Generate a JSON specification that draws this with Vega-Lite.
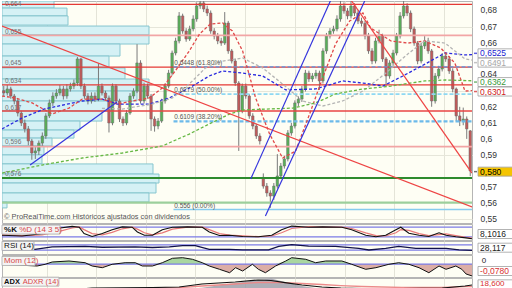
{
"$schema":"https://vega.github.io/schema/vega-lite/v6.json",
"padding":0,"background":"#ffffff","bounds":"flush","spacing":1,
"config":{"font":"Liberation Sans","view":{"fill":"#fefef4","stroke":"#b5b5b5"},"axis":{"domain":false}},
"datasets":{
"ohlc":[{"t":0,"o":0.63,"h":0.633,"l":0.6265,"c":0.6286},{"t":1,"o":0.6286,"h":0.6335,"l":0.627,"c":0.6311},{"t":2,"o":0.6311,"h":0.6325,"l":0.625,"c":0.6267},{"t":3,"o":0.6267,"h":0.628,"l":0.6215,"c":0.6236},{"t":4,"o":0.6236,"h":0.625,"l":0.614,"c":0.6161},{"t":5,"o":0.6161,"h":0.6175,"l":0.608,"c":0.6099},{"t":6,"o":0.6099,"h":0.612,"l":0.604,"c":0.6062},{"t":7,"o":0.6062,"h":0.608,"l":0.596,"c":0.5987},{"t":8,"o":0.5987,"h":0.6,"l":0.587,"c":0.5912},{"t":9,"o":0.5912,"h":0.595,"l":0.5875,"c":0.5925},{"t":10,"o":0.5925,"h":0.599,"l":0.59,"c":0.5974},{"t":11,"o":0.5974,"h":0.604,"l":0.5955,"c":0.6018},{"t":12,"o":0.6018,"h":0.616,"l":0.6,"c":0.6143},{"t":13,"o":0.6143,"h":0.6245,"l":0.613,"c":0.6224},{"t":14,"o":0.6224,"h":0.629,"l":0.6205,"c":0.6267},{"t":15,"o":0.6267,"h":0.631,"l":0.625,"c":0.6286},{"t":16,"o":0.6286,"h":0.6335,"l":0.627,"c":0.6311},{"t":17,"o":0.6311,"h":0.633,"l":0.6245,"c":0.6267},{"t":18,"o":0.6267,"h":0.634,"l":0.625,"c":0.6311},{"t":19,"o":0.6311,"h":0.635,"l":0.6295,"c":0.6329},{"t":20,"o":0.6329,"h":0.637,"l":0.631,"c":0.6348},{"t":21,"o":0.6348,"h":0.651,"l":0.633,"c":0.6498},{"t":22,"o":0.6498,"h":0.6505,"l":0.631,"c":0.6329},{"t":23,"o":0.6329,"h":0.6345,"l":0.625,"c":0.6267},{"t":24,"o":0.6267,"h":0.6285,"l":0.6215,"c":0.6236},{"t":25,"o":0.6236,"h":0.629,"l":0.622,"c":0.6267},{"t":26,"o":0.6267,"h":0.629,"l":0.623,"c":0.6248},{"t":27,"o":0.6248,"h":0.647,"l":0.6235,"c":0.6329},{"t":28,"o":0.6329,"h":0.6345,"l":0.627,"c":0.6286},{"t":29,"o":0.6286,"h":0.63,"l":0.624,"c":0.6255},{"t":30,"o":0.6255,"h":0.627,"l":0.604,"c":0.6099},{"t":31,"o":0.6099,"h":0.6345,"l":0.6085,"c":0.6329},{"t":32,"o":0.6329,"h":0.634,"l":0.622,"c":0.6236},{"t":33,"o":0.6236,"h":0.625,"l":0.6105,"c":0.6124},{"t":34,"o":0.6124,"h":0.614,"l":0.608,"c":0.6099},{"t":35,"o":0.6099,"h":0.618,"l":0.6085,"c":0.6161},{"t":36,"o":0.6161,"h":0.6285,"l":0.615,"c":0.6267},{"t":37,"o":0.6267,"h":0.6315,"l":0.625,"c":0.6298},{"t":38,"o":0.6298,"h":0.659,"l":0.6285,"c":0.6473},{"t":39,"o":0.6473,"h":0.649,"l":0.622,"c":0.6236},{"t":40,"o":0.6236,"h":0.635,"l":0.622,"c":0.6329},{"t":41,"o":0.6329,"h":0.6345,"l":0.625,"c":0.6267},{"t":42,"o":0.6267,"h":0.628,"l":0.605,"c":0.6124},{"t":43,"o":0.6124,"h":0.614,"l":0.6045,"c":0.608},{"t":44,"o":0.608,"h":0.613,"l":0.606,"c":0.6111},{"t":45,"o":0.6111,"h":0.625,"l":0.61,"c":0.6236},{"t":46,"o":0.6236,"h":0.6345,"l":0.622,"c":0.6329},{"t":47,"o":0.6329,"h":0.643,"l":0.6315,"c":0.641},{"t":48,"o":0.641,"h":0.655,"l":0.6395,"c":0.6535},{"t":49,"o":0.6535,"h":0.663,"l":0.652,"c":0.661},{"t":50,"o":0.661,"h":0.679,"l":0.6595,"c":0.6766},{"t":51,"o":0.6766,"h":0.678,"l":0.6655,"c":0.6672},{"t":52,"o":0.6672,"h":0.669,"l":0.6605,"c":0.6622},{"t":53,"o":0.6622,"h":0.6705,"l":0.661,"c":0.6685},{"t":54,"o":0.6685,"h":0.677,"l":0.667,"c":0.6747},{"t":55,"o":0.6747,"h":0.685,"l":0.673,"c":0.6828},{"t":56,"o":0.6828,"h":0.69,"l":0.681,"c":0.6847},{"t":57,"o":0.6847,"h":0.688,"l":0.679,"c":0.6809},{"t":58,"o":0.6809,"h":0.683,"l":0.6765,"c":0.6784},{"t":59,"o":0.6784,"h":0.68,"l":0.6655,"c":0.6672},{"t":60,"o":0.6672,"h":0.669,"l":0.662,"c":0.6641},{"t":61,"o":0.6641,"h":0.666,"l":0.659,"c":0.661},{"t":62,"o":0.661,"h":0.663,"l":0.658,"c":0.6597},{"t":63,"o":0.6597,"h":0.679,"l":0.6585,"c":0.6722},{"t":64,"o":0.6722,"h":0.6735,"l":0.653,"c":0.6548},{"t":65,"o":0.6548,"h":0.656,"l":0.647,"c":0.6485},{"t":66,"o":0.6485,"h":0.65,"l":0.633,"c":0.6348},{"t":67,"o":0.6348,"h":0.636,"l":0.5925,"c":0.6174},{"t":68,"o":0.6174,"h":0.6345,"l":0.616,"c":0.6329},{"t":69,"o":0.6329,"h":0.6345,"l":0.625,"c":0.6267},{"t":70,"o":0.6267,"h":0.628,"l":0.6125,"c":0.6143},{"t":71,"o":0.6143,"h":0.616,"l":0.606,"c":0.608},{"t":72,"o":0.608,"h":0.6095,"l":0.6,"c":0.6018},{"t":73,"o":0.6018,"h":0.6035,"l":0.5965,"c":0.5987},{"t":74,"o":0.576,"h":0.5785,"l":0.569,"c":0.5706},{"t":75,"o":0.5706,"h":0.5725,"l":0.564,"c":0.5663},{"t":76,"o":0.5663,"h":0.568,"l":0.557,"c":0.5644},{"t":77,"o":0.5644,"h":0.5725,"l":0.562,"c":0.5706},{"t":78,"o":0.5706,"h":0.5905,"l":0.569,"c":0.5769},{"t":79,"o":0.5769,"h":0.585,"l":0.575,"c":0.5831},{"t":80,"o":0.5831,"h":0.5895,"l":0.5815,"c":0.5875},{"t":81,"o":0.5875,"h":0.6055,"l":0.586,"c":0.6037},{"t":82,"o":0.6037,"h":0.61,"l":0.602,"c":0.608},{"t":83,"o":0.608,"h":0.624,"l":0.6065,"c":0.6224},{"t":84,"o":0.6224,"h":0.6265,"l":0.6205,"c":0.6248},{"t":85,"o":0.6248,"h":0.633,"l":0.623,"c":0.6311},{"t":86,"o":0.6311,"h":0.643,"l":0.6295,"c":0.641},{"t":87,"o":0.641,"h":0.6425,"l":0.6355,"c":0.6373},{"t":88,"o":0.6373,"h":0.641,"l":0.6355,"c":0.6392},{"t":89,"o":0.6392,"h":0.643,"l":0.6375,"c":0.641},{"t":90,"o":0.641,"h":0.6425,"l":0.6305,"c":0.6361},{"t":91,"o":0.6361,"h":0.6565,"l":0.6345,"c":0.6548},{"t":92,"o":0.6548,"h":0.666,"l":0.653,"c":0.6641},{"t":93,"o":0.6641,"h":0.669,"l":0.6625,"c":0.6672},{"t":94,"o":0.6672,"h":0.6705,"l":0.6655,"c":0.6685},{"t":95,"o":0.6685,"h":0.677,"l":0.667,"c":0.6747},{"t":96,"o":0.6747,"h":0.688,"l":0.673,"c":0.6828},{"t":97,"o":0.6828,"h":0.685,"l":0.678,"c":0.6797},{"t":98,"o":0.6797,"h":0.6815,"l":0.6745,"c":0.6766},{"t":99,"o":0.6766,"h":0.687,"l":0.675,"c":0.6828},{"t":100,"o":0.6828,"h":0.6845,"l":0.6765,"c":0.6784},{"t":101,"o":0.6784,"h":0.68,"l":0.6715,"c":0.6734},{"t":102,"o":0.6734,"h":0.6755,"l":0.67,"c":0.672},{"t":103,"o":0.672,"h":0.6735,"l":0.662,"c":0.6641},{"t":104,"o":0.6641,"h":0.666,"l":0.653,"c":0.6548},{"t":105,"o":0.6548,"h":0.6565,"l":0.6465,"c":0.6485},{"t":106,"o":0.6485,"h":0.663,"l":0.647,"c":0.661},{"t":107,"o":0.661,"h":0.668,"l":0.6595,"c":0.6641},{"t":108,"o":0.6641,"h":0.6655,"l":0.648,"c":0.6498},{"t":109,"o":0.6498,"h":0.651,"l":0.633,"c":0.6392},{"t":110,"o":0.6392,"h":0.649,"l":0.6375,"c":0.6473},{"t":111,"o":0.6473,"h":0.6555,"l":0.6455,"c":0.6535},{"t":112,"o":0.6535,"h":0.666,"l":0.652,"c":0.6641},{"t":113,"o":0.6641,"h":0.679,"l":0.6625,"c":0.6766},{"t":114,"o":0.6766,"h":0.687,"l":0.675,"c":0.6828},{"t":115,"o":0.6828,"h":0.6845,"l":0.6765,"c":0.6784},{"t":116,"o":0.6784,"h":0.68,"l":0.6665,"c":0.6685},{"t":117,"o":0.6685,"h":0.67,"l":0.658,"c":0.6597},{"t":118,"o":0.6597,"h":0.661,"l":0.6465,"c":0.6485},{"t":119,"o":0.6485,"h":0.66,"l":0.647,"c":0.6579},{"t":120,"o":0.6579,"h":0.664,"l":0.656,"c":0.661},{"t":121,"o":0.661,"h":0.663,"l":0.653,"c":0.6548},{"t":122,"o":0.6548,"h":0.656,"l":0.62,"c":0.6236},{"t":123,"o":0.6236,"h":0.641,"l":0.622,"c":0.6392},{"t":124,"o":0.6392,"h":0.6455,"l":0.6375,"c":0.6435},{"t":125,"o":0.6435,"h":0.6535,"l":0.642,"c":0.6516},{"t":126,"o":0.6516,"h":0.654,"l":0.648,"c":0.6498},{"t":127,"o":0.6498,"h":0.6515,"l":0.6405,"c":0.6423},{"t":128,"o":0.6423,"h":0.644,"l":0.629,"c":0.6311},{"t":129,"o":0.6311,"h":0.632,"l":0.611,"c":0.6143},{"t":130,"o":0.6143,"h":0.62,"l":0.608,"c":0.6111},{"t":131,"o":0.6111,"h":0.6195,"l":0.6085,"c":0.6124},{"t":132,"o":0.6124,"h":0.614,"l":0.6,"c":0.6062},{"t":133,"o":0.605,"h":0.6055,"l":0.5768,"c":0.58}],
"prof":[{"p0":0.6859,"p1":0.6815,"vol":14.33},{"p0":0.6815,"p1":0.6766,"vol":18.03},{"p0":0.6766,"p1":0.6709,"vol":18.32},{"p0":0.6703,"p1":0.6647,"vol":41.41},{"p0":0.6647,"p1":0.6591,"vol":41.41},{"p0":0.6591,"p1":0.6516,"vol":33.14},{"p0":0.6516,"p1":0.6442,"vol":30.01},{"p0":0.6442,"p1":0.6373,"vol":34.57},{"p0":0.6373,"p1":0.6298,"vol":41.41},{"p0":0.6298,"p1":0.6236,"vol":37.99},{"p0":0.6236,"p1":0.6174,"vol":30.86},{"p0":0.6174,"p1":0.6111,"vol":28.01},{"p0":0.6111,"p1":0.6055,"vol":21.74},{"p0":0.6055,"p1":0.6005,"vol":20.03},{"p0":0.6005,"p1":0.5956,"vol":13.76},{"p0":0.5956,"p1":0.59,"vol":11.47},{"p0":0.59,"p1":0.5844,"vol":10.9},{"p0":0.5844,"p1":0.5781,"vol":42.55},{"p0":0.5781,"p1":0.5725,"vol":44.26},{"p0":0.5725,"p1":0.5663,"vol":43.41},{"p0":0.5663,"p1":0.5607,"vol":41.41},{"p0":0.5607,"p1":0.557,"vol":0.93}],
"plab":[{"p":0.6838,"lab":"0,664"},{"p":0.6666,"lab":"0,655"},{"p":0.6473,"lab":"0,645"},{"p":0.6361,"lab":"0,634"},{"p":0.6192,"lab":"0,617"},{"p":0.5981,"lab":"0,596"},{"p":0.5783,"lab":"0,576"}],
"ylab":[{"p":0.68,"lab":"0,68"},{"p":0.67,"lab":"0,67"},{"p":0.66,"lab":"0,66"},{"p":0.6407,"lab":"0,64"},{"p":0.62,"lab":"0,62"},{"p":0.61,"lab":"0,61"},{"p":0.6,"lab":"0,6"},{"p":0.59,"lab":"0,59"},{"p":0.57,"lab":"0,57"},{"p":0.56,"lab":"0,56"},{"p":0.55,"lab":"0,55"}],
"hl":[{"p":0.6838,"kind":"r"},{"p":0.6645,"kind":"pk"},{"p":0.6447,"kind":"r"},{"p":0.6336,"kind":"r"},{"p":0.6173,"kind":"R"},{"p":0.5952,"kind":"pk"},{"p":0.5756,"kind":"g"},{"p":0.5603,"kind":"lg"}],
"fib":[{"p":0.6448,"pct":"61.80%","lab":"0.6448 (61.80%)"},{"p":0.6279,"pct":"50.00%","lab":"0.6279 (50.00%)"},{"p":0.6109,"pct":"38.20%","lab":"0.6109 (38.20%)"},{"p":0.556,"pct":"0.00%","lab":"0.556 (0.00%)"}],
"ma":[
{"s":"MA50","t":-0.5,"p":0.6062},{"s":"MA50","t":5.2,"p":0.613},{"s":"MA50","t":11.5,"p":0.6186},{"s":"MA50","t":22.4,"p":0.6236},{"s":"MA50","t":28.1,"p":0.6248},{"s":"MA50","t":32.4,"p":0.6217},{"s":"MA50","t":41.5,"p":0.6217},{"s":"MA50","t":47.2,"p":0.6255},{"s":"MA50","t":52.9,"p":0.6317},{"s":"MA50","t":58.6,"p":0.6392},{"s":"MA50","t":62.4,"p":0.6423},{"s":"MA50","t":68.1,"p":0.641},{"s":"MA50","t":73.8,"p":0.6392},{"s":"MA50","t":80.4,"p":0.6305},{"s":"MA50","t":88.9,"p":0.6311},{"s":"MA50","t":96.6,"p":0.6361},{"s":"MA50","t":102.4,"p":0.6348},{"s":"MA50","t":108.1,"p":0.6329},{"s":"MA50","t":113.8,"p":0.6392},{"s":"MA50","t":120.1,"p":0.6466},{"s":"MA50","t":125.8,"p":0.6535},{"s":"MA50","t":131.5,"p":0.6523},{"s":"MA50","t":133.5,"p":0.6525},
{"s":"MA20","t":-0.5,"p":0.6267},{"s":"MA20","t":3.2,"p":0.6255},{"s":"MA20","t":8.1,"p":0.6224},{"s":"MA20","t":13.8,"p":0.6155},{"s":"MA20","t":18.6,"p":0.6192},{"s":"MA20","t":22.4,"p":0.6248},{"s":"MA20","t":28.1,"p":0.6248},{"s":"MA20","t":32.4,"p":0.6217},{"s":"MA20","t":36.6,"p":0.6236},{"s":"MA20","t":41.5,"p":0.6255},{"s":"MA20","t":45.2,"p":0.6317},{"s":"MA20","t":48.9,"p":0.6423},{"s":"MA20","t":52.9,"p":0.6548},{"s":"MA20","t":55.8,"p":0.6653},{"s":"MA20","t":58.9,"p":0.6716},{"s":"MA20","t":62.4,"p":0.6722},{"s":"MA20","t":65.2,"p":0.6672},{"s":"MA20","t":68.1,"p":0.6548},{"s":"MA20","t":71.8,"p":0.6255},{"s":"MA20","t":75.8,"p":0.603},{"s":"MA20","t":79.5,"p":0.5881},{"s":"MA20","t":83.2,"p":0.5924},{"s":"MA20","t":87.2,"p":0.6155},{"s":"MA20","t":90.9,"p":0.6379},{"s":"MA20","t":94.6,"p":0.6591},{"s":"MA20","t":98.6,"p":0.6734},{"s":"MA20","t":102.4,"p":0.6784},{"s":"MA20","t":104.6,"p":0.6691},{"s":"MA20","t":110.4,"p":0.661},{"s":"MA20","t":115.2,"p":0.6597},{"s":"MA20","t":120.1,"p":0.661},{"s":"MA20","t":124.6,"p":0.6566},{"s":"MA20","t":128.6,"p":0.6473},{"s":"MA20","t":131.5,"p":0.6298},{"s":"MA20","t":133.5,"p":0.6301},
{"s":"MA100","t":28,"p":0.619},{"s":"MA100","t":33.8,"p":0.6186},{"s":"MA100","t":42.4,"p":0.6217},{"s":"MA100","t":48.1,"p":0.6255},{"s":"MA100","t":53.8,"p":0.6361},{"s":"MA100","t":57.5,"p":0.6442},{"s":"MA100","t":62.4,"p":0.6485},{"s":"MA100","t":68.1,"p":0.6504},{"s":"MA100","t":73.8,"p":0.6442},{"s":"MA100","t":79.5,"p":0.6342},{"s":"MA100","t":85.2,"p":0.6236},{"s":"MA100","t":90.9,"p":0.6205},{"s":"MA100","t":96.6,"p":0.6236},{"s":"MA100","t":102.4,"p":0.6298},{"s":"MA100","t":108.6,"p":0.6404},{"s":"MA100","t":115.2,"p":0.6529},{"s":"MA100","t":120.1,"p":0.661},{"s":"MA100","t":125.8,"p":0.6597},{"s":"MA100","t":131.5,"p":0.6498},{"s":"MA100","t":133.5,"p":0.6491},
{"s":"MA200","t":-0.5,"p":0.5787},{"s":"MA200","t":10.9,"p":0.5837},{"s":"MA200","t":22.4,"p":0.5881},{"s":"MA200","t":33.8,"p":0.5912},{"s":"MA200","t":45.2,"p":0.5956},{"s":"MA200","t":52.9,"p":0.603},{"s":"MA200","t":58.6,"p":0.6093},{"s":"MA200","t":64.4,"p":0.6155},{"s":"MA200","t":68.1,"p":0.618},{"s":"MA200","t":82.4,"p":0.6192},{"s":"MA200","t":88.9,"p":0.6224},{"s":"MA200","t":94.6,"p":0.628},{"s":"MA200","t":102.4,"p":0.6311},{"s":"MA200","t":110.4,"p":0.6329},{"s":"MA200","t":120.1,"p":0.6361},{"s":"MA200","t":125.8,"p":0.6367},{"s":"MA200","t":133.5,"p":0.6362}],
"trend":[{"id":"r1","t":-0.5,"p":0.6703},{"id":"r1","t":133.5,"p":0.5576},{"id":"r2","t":96.4,"p":0.6946},{"id":"r2","t":133.5,"p":0.5787},{"id":"b1","t":7.5,"p":0.5837},{"id":"b1","t":32.3,"p":0.623},{"id":"b2","t":70.4,"p":0.575},{"id":"b2","t":94.9,"p":0.6946},{"id":"b3","t":74.6,"p":0.5519},{"id":"b3","t":102.9,"p":0.6859}],
"rlab":[{"p":0.6533,"lab":"0,6525","s":"MA50"},{"p":0.6475,"lab":"0,6491","s":"MA100"},{"p":0.6354,"lab":"0,6362","s":"MA200"},{"p":0.6295,"lab":"0,6301","s":"MA20"},{"p":0.5796,"lab":"0,580","s":"last"}],
"stoch":[{"t":-0.5,"k":30,"d":32},{"t":5.2,"k":25,"d":27},{"t":10.9,"k":40,"d":32},{"t":16.1,"k":75,"d":55},{"t":19.5,"k":85,"d":75},{"t":21.5,"k":80,"d":82},{"t":22.9,"k":40,"d":65},{"t":25.2,"k":22,"d":40},{"t":28.1,"k":40,"d":32},{"t":30.9,"k":64,"d":48},{"t":33.8,"k":82,"d":70},{"t":36.6,"k":80,"d":80},{"t":38.1,"k":50,"d":68},{"t":40.1,"k":30,"d":45},{"t":42.4,"k":30,"d":32},{"t":45.2,"k":64,"d":45},{"t":48.1,"k":80,"d":68},{"t":52.4,"k":82,"d":80},{"t":56.6,"k":80,"d":81},{"t":58.6,"k":50,"d":65},{"t":61.5,"k":28,"d":40},{"t":64.4,"k":30,"d":30},{"t":68.1,"k":22,"d":26},{"t":72.6,"k":20,"d":21},{"t":76.4,"k":30,"d":25},{"t":79.2,"k":64,"d":45},{"t":82.1,"k":87,"d":72},{"t":86.9,"k":80,"d":83},{"t":90.9,"k":82,"d":81},{"t":96.4,"k":80,"d":81},{"t":99.2,"k":64,"d":72},{"t":103.2,"k":30,"d":45},{"t":106.1,"k":20,"d":27},{"t":108.9,"k":30,"d":25},{"t":111.8,"k":64,"d":45},{"t":113.2,"k":80,"d":65},{"t":115.5,"k":42,"d":60},{"t":118.4,"k":30,"d":40},{"t":121.2,"k":22,"d":27},{"t":124.1,"k":45,"d":33},{"t":126.1,"k":30,"d":38},{"t":128.9,"k":20,"d":27},{"t":131.8,"k":13,"d":17},{"t":133.5,"k":8,"d":12}],
"rsi":[{"t":-0.5,"r":45},{"t":8.9,"r":36},{"t":13.8,"r":55},{"t":23.2,"r":58},{"t":28.1,"r":52},{"t":37.5,"r":55},{"t":42.4,"r":50},{"t":47.2,"r":55},{"t":51,"r":65},{"t":54.6,"r":65},{"t":58.6,"r":36},{"t":64.4,"r":36},{"t":68.1,"r":31},{"t":75.5,"r":31},{"t":78.4,"r":58},{"t":82.1,"r":72},{"t":86.9,"r":60},{"t":94.6,"r":58},{"t":101.2,"r":44},{"t":104.1,"r":31},{"t":108.9,"r":44},{"t":112.6,"r":58},{"t":117.5,"r":44},{"t":126.1,"r":44},{"t":129.8,"r":31},{"t":133.5,"r":28}],
"mom":[{"t":-0.5,"v":-0.001,"vp":0,"vn":-0.001},{"t":9.5,"v":-0.0125,"vp":0,"vn":-0.0125},{"t":11.8,"v":-0.0013,"vp":0,"vn":-0.0013},{"t":13.8,"v":0.0139,"vp":0.0139,"vn":0},{"t":18.6,"v":0.0205,"vp":0.0205,"vn":0},{"t":23.2,"v":0.0092,"vp":0.0092,"vn":0},{"t":25.2,"v":-0.0125,"vp":0,"vn":-0.0125},{"t":28.1,"v":-0.0237,"vp":0,"vn":-0.0237},{"t":30.9,"v":-0.0013,"vp":0,"vn":-0.0013},{"t":34.6,"v":0.0092,"vp":0.0092,"vn":0},{"t":37.5,"v":0.0092,"vp":0.0092,"vn":0},{"t":39.5,"v":-0.0125,"vp":0,"vn":-0.0125},{"t":42.4,"v":-0.0125,"vp":0,"vn":-0.0125},{"t":45.2,"v":0.0092,"vp":0.0092,"vn":0},{"t":48.1,"v":0.0383,"vp":0.0383,"vn":0},{"t":51,"v":0.0422,"vp":0.0422,"vn":0},{"t":53.8,"v":0.0317,"vp":0.0317,"vn":0},{"t":56.6,"v":0.0092,"vp":0.0092,"vn":0},{"t":58.6,"v":-0.0125,"vp":0,"vn":-0.0125},{"t":61.5,"v":-0.0343,"vp":0,"vn":-0.0343},{"t":64.4,"v":-0.0567,"vp":0,"vn":-0.0567},{"t":66.1,"v":-0.0237,"vp":0,"vn":-0.0237},{"t":68.1,"v":-0.0455,"vp":0,"vn":-0.0455},{"t":70.9,"v":-0.0013,"vp":0,"vn":-0.0013},{"t":72.6,"v":-0.0343,"vp":0,"vn":-0.0343},{"t":74.6,"v":-0.0567,"vp":0,"vn":-0.0567},{"t":77.5,"v":-0.0125,"vp":0,"vn":-0.0125},{"t":80.4,"v":0.0205,"vp":0.0205,"vn":0},{"t":82.1,"v":0.0422,"vp":0.0422,"vn":0},{"t":86.1,"v":0.0317,"vp":0.0317,"vn":0},{"t":88.9,"v":0.0092,"vp":0.0092,"vn":0},{"t":91.8,"v":0.0205,"vp":0.0205,"vn":0},{"t":96.4,"v":0.0205,"vp":0.0205,"vn":0},{"t":99.2,"v":-0.0013,"vp":0,"vn":-0.0013},{"t":103.2,"v":-0.0343,"vp":0,"vn":-0.0343},{"t":106.1,"v":-0.0237,"vp":0,"vn":-0.0237},{"t":109.8,"v":-0.0013,"vp":0,"vn":-0.0013},{"t":112.6,"v":0.0092,"vp":0.0092,"vn":0},{"t":115.5,"v":-0.0013,"vp":0,"vn":-0.0013},{"t":118.4,"v":-0.0237,"vp":0,"vn":-0.0237},{"t":121.2,"v":-0.0567,"vp":0,"vn":-0.0567},{"t":124.1,"v":-0.0125,"vp":0,"vn":-0.0125},{"t":126.1,"v":-0.0343,"vp":0,"vn":-0.0343},{"t":128.9,"v":-0.0125,"vp":0,"vn":-0.0125},{"t":130.6,"v":-0.0343,"vp":0,"vn":-0.0343},{"t":131.8,"v":-0.065,"vp":0,"vn":-0.065},{"t":133.5,"v":-0.078,"vp":0,"vn":-0.078}],
"adx":[{"t":-0.5,"adx":-1,"adxr":2,"di":0},{"t":16.6,"adx":-4,"adxr":2,"di":0},{"t":25.2,"adx":5,"adxr":2,"di":0},{"t":42.3,"adx":6.5,"adxr":3.5,"di":0},{"t":50,"adx":8,"adxr":6,"di":0},{"t":56.5,"adx":17,"adxr":11,"di":6},{"t":66,"adx":23,"adxr":17,"di":20},{"t":72.5,"adx":29,"adxr":21.5,"di":29},{"t":76.2,"adx":27.5,"adxr":21.5,"di":33.5},{"t":80.2,"adx":20.9,"adxr":20.9,"di":23},{"t":85,"adx":14,"adxr":18.5,"di":11},{"t":90.7,"adx":8,"adxr":15.5,"di":2},{"t":96.1,"adx":5,"adxr":12,"di":0},{"t":102.1,"adx":3.5,"adxr":9.5,"di":0},{"t":113.5,"adx":3.5,"adxr":6.5,"di":0},{"t":119.2,"adx":4,"adxr":6.5,"di":0},{"t":125,"adx":5,"adxr":6.5,"di":0},{"t":131.5,"adx":11,"adxr":9,"di":0},{"t":133.5,"adx":14,"adxr":9.5,"di":0}]
},
"vconcat":[
{"width":470,"height":222,"resolve":{"scale":{"color":"independent","strokeWidth":"independent"}},
 "layer":[
  {"data":{"name":"prof"},"mark":{"type":"rect","fill":"#d5f1f5","stroke":"#86c6cf","strokeWidth":1,"clip":true},
   "encoding":{"x":{"field":"vol","type":"quantitative","scale":{"domain":[-0.5,133.5],"nice":false,"zero":false,"padding":0},
     "axis":{"values":[12.2,26.4,40.5,54.6,68.8,82.9,97.2,111.4,125.5],"labels":false,"ticks":false,"grid":true,"gridColor":"#e4e4d8","title":null}},"x2":{"datum":-0.5},
    "y":{"field":"p0","type":"quantitative","scale":{"domain":[0.5476,0.6859],"nice":false,"zero":false,"padding":0},
     "axis":{"orient":"right","values":[0.55,0.56,0.57,0.58,0.59,0.6,0.61,0.62,0.63,0.64,0.65,0.66,0.67,0.68],"labels":false,"ticks":false,"grid":true,"gridColor":"#e6e6da","title":null}},
    "y2":{"field":"p1"}}},
  {"data":{"name":"ohlc"},"mark":{"type":"rule","color":"#7a7a7a","strokeWidth":1,"clip":true},
   "encoding":{"x":{"field":"t","type":"quantitative"},"y":{"field":"l","type":"quantitative"},"y2":{"field":"h"}}},
  {"data":{"name":"ohlc"},"mark":{"type":"bar","width":2.5,"stroke":"#6a6a6a","strokeWidth":0.5,"clip":true},
   "encoding":{"x":{"field":"t","type":"quantitative"},"y":{"field":"o","type":"quantitative"},"y2":{"field":"c"},
    "color":{"condition":{"test":"datum.c >= datum.o","value":"#58b058"},"value":"#c05a5a"}}},
  {"data":{"name":"hl"},"mark":{"type":"rule"},
   "encoding":{"y":{"field":"p","type":"quantitative"},
    "color":{"field":"kind","type":"nominal","scale":{"domain":["r","R","pk","g","lg"],"range":["#e53935","#e84545","#f2a5a5","#2e8b2e","#9ccf9c"]},"legend":null},
    "strokeWidth":{"field":"kind","type":"nominal","scale":{"domain":["r","R","pk","g","lg"],"range":[1.2,2.4,2.2,1,2]},"legend":null}}},
  {"data":{"name":"fib"},"transform":[{"filter":"datum.pct != '0.00%'"}],"mark":{"type":"rule","strokeDash":[4,2]},
   "encoding":{"x":{"datum":48.4},"x2":{"datum":133.5},"y":{"field":"p","type":"quantitative"},
    "color":{"field":"pct","type":"nominal","scale":{"domain":["61.80%","50.00%","38.20%"],"range":["#5a9ae6","#8ed8f2","#6cbaea"]},"legend":null},
    "strokeWidth":{"field":"pct","type":"nominal","scale":{"domain":["61.80%","50.00%","38.20%"],"range":[1.3,2.2,1.3]},"legend":null}}},
  {"data":{"name":"fib"},"transform":[{"filter":"datum.pct == '0.00%'"}],"mark":{"type":"rule","color":"#86cbee","strokeWidth":1.5},
   "encoding":{"x":{"datum":48.4},"x2":{"datum":133.5},"y":{"field":"p","type":"quantitative"}}},
  {"data":{"name":"ma"},"mark":{"type":"line","strokeDash":[3,2],"strokeWidth":1.3,"clip":true},
   "encoding":{"x":{"field":"t","type":"quantitative"},"y":{"field":"p","type":"quantitative"},
    "color":{"field":"s","type":"nominal","scale":{"domain":["MA20","MA50","MA100","MA200"],"range":["#e04848","#2a2ade","#b4b4b4","#66b844"]},"legend":null}}},
  {"data":{"name":"trend"},"mark":{"type":"line","strokeWidth":1.2,"clip":true},
   "encoding":{"x":{"field":"t","type":"quantitative"},"y":{"field":"p","type":"quantitative"},"detail":{"field":"id"},
    "color":{"field":"id","type":"nominal","scale":{"domain":["r1","r2","b1","b2","b3"],"range":["#ee4444","#ee4444","#3535dd","#3535dd","#3535dd"]},"legend":null}}},
  {"data":{"name":"fib"},"mark":{"type":"text","align":"left","baseline":"bottom","dy":-1,"fontSize":6.5,"color":"#555555"},
   "encoding":{"x":{"datum":48.6},"y":{"field":"p","type":"quantitative"},"text":{"field":"lab"}}},
  {"data":{"name":"plab"},"mark":{"type":"text","align":"left","baseline":"middle","dx":3,"fontSize":6.5,"color":"#707070"},
   "encoding":{"x":{"datum":-0.5},"y":{"field":"p","type":"quantitative"},"text":{"field":"lab"}}},
  {"data":{"values":[{"lab":"© ProRealTime.com  Históricos ajustados con dividendos","p":0.5512}]},"mark":{"type":"text","align":"left","baseline":"middle","dx":2,"fontSize":7.4,"color":"#555555"},
   "encoding":{"x":{"datum":-0.5},"y":{"field":"p","type":"quantitative"},"text":{"field":"lab"}}},
  {"data":{"name":"ylab"},"mark":{"type":"text","align":"left","baseline":"middle","fontSize":8.5,"color":"#333333","clip":false},
   "encoding":{"x":{"datum":135.9},"y":{"field":"p","type":"quantitative"},"text":{"field":"lab"}}},
  {"data":{"name":"rlab"},"mark":{"type":"tick","orient":"horizontal","size":35,"thickness":9,"stroke":"#a0a0a0","strokeWidth":0.8,"opacity":1,"clip":false},
   "encoding":{"x":{"datum":140.2},"y":{"field":"p","type":"quantitative"},
    "color":{"field":"s","type":"nominal","scale":{"domain":["MA20","MA50","MA100","MA200","last"],"range":["#ffffff","#ffffff","#ffffff","#ffffff","#f5c400"]},"legend":null}}},
  {"data":{"name":"rlab"},"mark":{"type":"tick","orient":"horizontal","size":3,"thickness":1.5,"clip":false},
   "encoding":{"x":{"datum":134.5},"y":{"field":"p","type":"quantitative"},
    "color":{"field":"s","type":"nominal","scale":{"domain":["MA20","MA50","MA100","MA200","last"],"range":["#d02020","#1a1ad0","#a8a8a8","#3a9a3a","#333333"]},"legend":null}}},
  {"data":{"name":"rlab"},"mark":{"type":"text","align":"left","baseline":"middle","fontSize":8.5,"clip":false},
   "encoding":{"x":{"datum":135.8},"y":{"field":"p","type":"quantitative"},"text":{"field":"lab"},
    "color":{"field":"s","type":"nominal","scale":{"domain":["MA20","MA50","MA100","MA200","last"],"range":["#d02020","#1a1ad0","#a8a8a8","#3a9a3a","#000000"]},"legend":null}}}
 ]},
{"width":470,"height":16,
 "layer":[
  {"data":{"values":[{"lvl":80},{"lvl":20}]},"mark":{"type":"rule","color":"#7b7be6","strokeWidth":1.3},
   "encoding":{"y":{"field":"lvl","type":"quantitative","scale":{"domain":[0,100],"nice":false,"zero":false,"padding":0},"axis":null}}},
  {"data":{"name":"stoch"},"mark":{"type":"line","color":"#e87878","strokeWidth":1.2,"clip":true},
   "encoding":{"x":{"field":"t","type":"quantitative","scale":{"domain":[-0.5,133.5],"nice":false,"zero":false,"padding":0},"axis":{"values":[12.2,26.4,40.5,54.6,68.8,82.9,97.2,111.4,125.5],"labels":false,"ticks":false,"grid":true,"gridColor":"#e4e4d8","title":null}},"y":{"field":"d","type":"quantitative"}}},
  {"data":{"name":"stoch"},"mark":{"type":"line","color":"#111111","strokeWidth":1.1,"clip":true},
   "encoding":{"x":{"field":"t","type":"quantitative"},"y":{"field":"k","type":"quantitative"}}},
  {"data":{"values":[{"v":65}]},"mark":{"type":"tick","orient":"horizontal","size":58,"thickness":9,"color":"#f4f4f4","stroke":"#aaaaaa","strokeWidth":0.8,"opacity":1},
   "encoding":{"x":{"datum":7.77},"y":{"field":"v","type":"quantitative"}}},
  {"data":{"values":[{"v":65,"lab":"%K"}]},"mark":{"type":"text","align":"left","baseline":"middle","fontSize":8,"fontWeight":"bold","color":"#111111"},
   "encoding":{"x":{"datum":0.1},"y":{"field":"v","type":"quantitative"},"text":{"field":"lab"}}},
  {"data":{"values":[{"v":65,"lab":"%D (14 3 5)"}]},"mark":{"type":"text","align":"left","baseline":"middle","fontSize":8,"color":"#d84848"},
   "encoding":{"x":{"datum":4.4},"y":{"field":"v","type":"quantitative"},"text":{"field":"lab"}}},
  {"data":{"values":[{"v":37.5,"lab":"8,1016"}]},"mark":{"type":"tick","orient":"horizontal","size":35,"thickness":9,"color":"#ffffff","stroke":"#a0a0a0","strokeWidth":0.8,"opacity":1,"clip":false},
   "encoding":{"x":{"datum":140.2},"y":{"field":"v","type":"quantitative"}}},
  {"data":{"values":[{"v":37.5,"lab":"8,1016"}]},"mark":{"type":"text","align":"left","baseline":"middle","fontSize":8.5,"color":"#222222","clip":false},
   "encoding":{"x":{"datum":135.8},"y":{"field":"v","type":"quantitative"},"text":{"field":"lab"}}}
 ]},
{"width":470,"height":13,
 "layer":[
  {"data":{"values":[{"lvl":70},{"lvl":30}]},"mark":{"type":"rule","color":"#7b7be6","strokeWidth":1.3},
   "encoding":{"y":{"field":"lvl","type":"quantitative","scale":{"domain":[0,100],"nice":false,"zero":false,"padding":0},"axis":null}}},
  {"data":{"name":"rsi"},"mark":{"type":"line","color":"#10104a","strokeWidth":1.3,"clip":true},
   "encoding":{"x":{"field":"t","type":"quantitative","scale":{"domain":[-0.5,133.5],"nice":false,"zero":false,"padding":0},"axis":{"values":[12.2,26.4,40.5,54.6,68.8,82.9,97.2,111.4,125.5],"labels":false,"ticks":false,"grid":true,"gridColor":"#e4e4d8","title":null}},"y":{"field":"r","type":"quantitative"}}},
  {"data":{"values":[{"v":62,"lab":"RSI (14)"}]},"mark":{"type":"tick","orient":"horizontal","size":32,"thickness":9,"color":"#f4f4f4","stroke":"#aaaaaa","strokeWidth":0.8,"opacity":1},
   "encoding":{"x":{"datum":4.06},"y":{"field":"v","type":"quantitative"}}},
  {"data":{"values":[{"v":62,"lab":"RSI (14)"}]},"mark":{"type":"text","align":"left","baseline":"middle","fontSize":8,"color":"#111111"},
   "encoding":{"x":{"datum":0.1},"y":{"field":"v","type":"quantitative"},"text":{"field":"lab"}}},
  {"data":{"values":[{"v":48.5,"lab":"28,117"}]},"mark":{"type":"tick","orient":"horizontal","size":35,"thickness":9,"color":"#ffffff","stroke":"#a0a0a0","strokeWidth":0.8,"opacity":1,"clip":false},
   "encoding":{"x":{"datum":140.2},"y":{"field":"v","type":"quantitative"}}},
  {"data":{"values":[{"v":48.5,"lab":"28,117"}]},"mark":{"type":"text","align":"left","baseline":"middle","fontSize":8.5,"color":"#222222","clip":false},
   "encoding":{"x":{"datum":135.8},"y":{"field":"v","type":"quantitative"},"text":{"field":"lab"}}}
 ]},
{"width":470,"height":22,
 "layer":[
  {"data":{"name":"mom"},"mark":{"type":"area","color":"#a9d6a0","clip":true},
   "encoding":{"x":{"field":"t","type":"quantitative","scale":{"domain":[-0.5,133.5],"nice":false,"zero":false,"padding":0},"axis":{"values":[12.2,26.4,40.5,54.6,68.8,82.9,97.2,111.4,125.5],"labels":false,"ticks":false,"grid":true,"gridColor":"#e4e4d8","title":null}},
    "y":{"field":"vp","type":"quantitative","scale":{"domain":[-0.085,0.06],"nice":false,"zero":false,"padding":0},"axis":null},"y2":{"datum":0}}},
  {"data":{"name":"mom"},"mark":{"type":"area","color":"#dcaea6","clip":true},
   "encoding":{"x":{"field":"t","type":"quantitative"},"y":{"field":"vn","type":"quantitative"},"y2":{"datum":0}}},
  {"data":{"values":[{"lvl":0}]},"mark":{"type":"rule","color":"#7b7be6","strokeWidth":1.3},
   "encoding":{"y":{"field":"lvl","type":"quantitative"}}},
  {"data":{"name":"mom"},"mark":{"type":"line","color":"#111111","strokeWidth":1,"clip":true},
   "encoding":{"x":{"field":"t","type":"quantitative"},"y":{"field":"v","type":"quantitative"}}},
  {"data":{"values":[{"v":0.0205,"lab":"Mom (12)"}]},"mark":{"type":"tick","orient":"horizontal","size":33,"thickness":9,"color":"#f4f4f4","stroke":"#aaaaaa","strokeWidth":0.8,"opacity":1},
   "encoding":{"x":{"datum":4.2},"y":{"field":"v","type":"quantitative"}}},
  {"data":{"values":[{"v":0.0205,"lab":"Mom (12)"}]},"mark":{"type":"text","align":"left","baseline":"middle","fontSize":8,"color":"#d84848"},
   "encoding":{"x":{"datum":0.1},"y":{"field":"v","type":"quantitative"},"text":{"field":"lab"}}},
  {"data":{"values":[{"v":0.0225,"lab":"0"}]},"mark":{"type":"text","align":"left","baseline":"middle","fontSize":8,"color":"#222222","clip":false},
   "encoding":{"x":{"datum":136.3},"y":{"field":"v","type":"quantitative"},"text":{"field":"lab"}}},
  {"data":{"values":[{"v":-0.0455,"lab":"-0,0780"}]},"mark":{"type":"tick","orient":"horizontal","size":35,"thickness":9,"color":"#ffffff","stroke":"#a0a0a0","strokeWidth":0.8,"opacity":1,"clip":false},
   "encoding":{"x":{"datum":140.2},"y":{"field":"v","type":"quantitative"}}},
  {"data":{"values":[{"v":-0.0455,"lab":"-0,0780"}]},"mark":{"type":"text","align":"left","baseline":"middle","fontSize":8.5,"color":"#d83030","clip":false},
   "encoding":{"x":{"datum":135.8},"y":{"field":"v","type":"quantitative"},"text":{"field":"lab"}}}
 ]},
{"width":470,"height":10,
 "layer":[
  {"data":{"name":"adx"},"mark":{"type":"area","color":"#9a9aa8","opacity":0.8,"clip":true},
   "encoding":{"x":{"field":"t","type":"quantitative","scale":{"domain":[-0.5,133.5],"nice":false,"zero":false,"padding":0},"axis":{"values":[12.2,26.4,40.5,54.6,68.8,82.9,97.2,111.4,125.5],"labels":false,"ticks":false,"grid":true,"gridColor":"#e4e4d8","title":null}},
    "y":{"field":"di","type":"quantitative","scale":{"domain":[5,35],"nice":false,"zero":false,"padding":0},"axis":null},"y2":{"datum":0}}},
  {"data":{"name":"adx"},"mark":{"type":"line","color":"#ec8a8a","strokeWidth":1.3,"clip":true},
   "encoding":{"x":{"field":"t","type":"quantitative"},"y":{"field":"adxr","type":"quantitative"}}},
  {"data":{"name":"adx"},"mark":{"type":"line","color":"#111111","strokeWidth":1.2,"clip":true},
   "encoding":{"x":{"field":"t","type":"quantitative"},"y":{"field":"adx","type":"quantitative"}}},
  {"data":{"values":[{"v":24}]},"mark":{"type":"tick","orient":"horizontal","size":57,"thickness":9,"color":"#f4f4f4","stroke":"#aaaaaa","strokeWidth":0.8,"opacity":1},
   "encoding":{"x":{"datum":7.6},"y":{"field":"v","type":"quantitative"}}},
  {"data":{"values":[{"v":24,"lab":"ADX"}]},"mark":{"type":"text","align":"left","baseline":"middle","fontSize":7.5,"fontWeight":"bold","color":"#111111"},
   "encoding":{"x":{"datum":0.1},"y":{"field":"v","type":"quantitative"},"text":{"field":"lab"}}},
  {"data":{"values":[{"v":24,"lab":"ADXR (14)"}]},"mark":{"type":"text","align":"left","baseline":"middle","fontSize":7.5,"color":"#d84848"},
   "encoding":{"x":{"datum":5.4},"y":{"field":"v","type":"quantitative"},"text":{"field":"lab"}}},
  {"data":{"values":[{"v":16,"lab":"18,600"}]},"mark":{"type":"tick","orient":"horizontal","size":35,"thickness":9,"color":"#ffffff","stroke":"#a0a0a0","strokeWidth":0.8,"opacity":1,"clip":false},
   "encoding":{"x":{"datum":140.2},"y":{"field":"v","type":"quantitative"}}},
  {"data":{"values":[{"v":16,"lab":"18,600"}]},"mark":{"type":"text","align":"left","baseline":"middle","fontSize":8,"color":"#d83030","clip":false},
   "encoding":{"x":{"datum":135.8},"y":{"field":"v","type":"quantitative"},"text":{"field":"lab"}}}
 ]}
]
}
